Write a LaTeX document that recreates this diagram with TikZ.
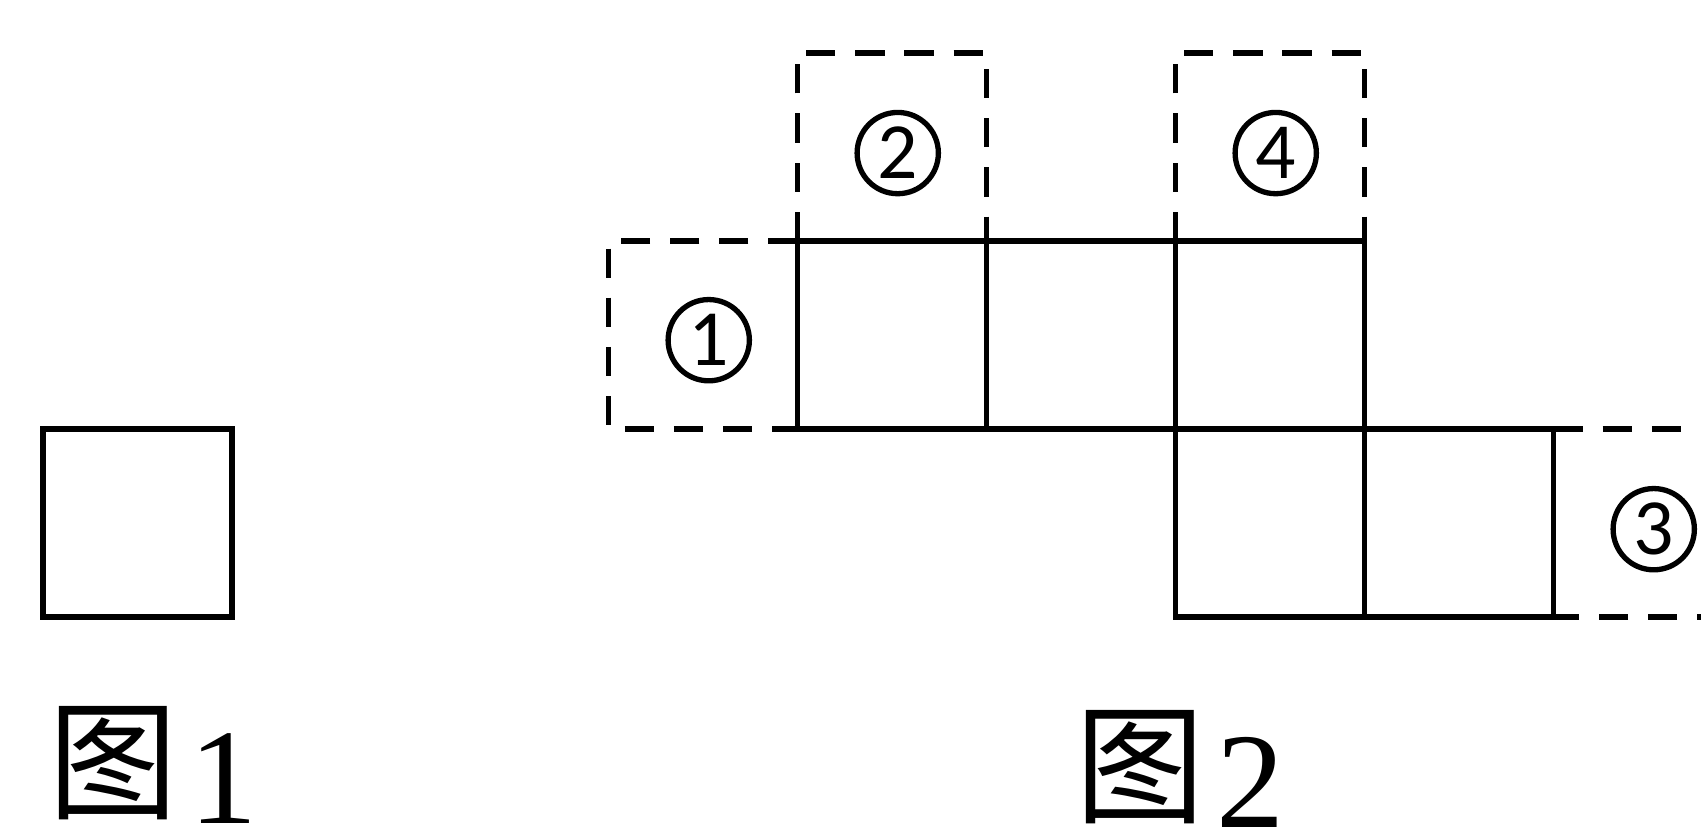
\documentclass[tikz,border=0pt]{standalone}
\usepackage{fontspec}
\setmainfont{Liberation Serif}
\newfontfamily\cjk{Noto Sans CJK SC}
\newfontfamily\numfont{Carlito}
\usepackage{tikz}
\tikzset{
  edge/.style={line width=0.8pt},
  fold/.style={line width=0.8pt, dash pattern=on 4.4pt off 3pt},
  num/.style={circle, draw, line width=0.8pt, minimum size=0.43cm, inner sep=0pt, font=\numfont\fontsize{12}{12}\selectfont},
  caption/.style={anchor=base, inner sep=0pt, font=\fontsize{20.5}{24}\selectfont}
}

\begin{document}
\begin{tikzpicture}
  \useasboundingbox (0,0) rectangle (9,-4.407);
  % define the coordinates
  \coordinate (A) at (4.22,-1.275);
  \coordinate (B) at (7.22,-2.27);
  \coordinate (C) at (6.22,-2.27);
  \coordinate (D) at (8.22,-3.265);
  % figure 1
  \draw[edge] (0.228,-2.27) rectangle (1.228,-3.265);
  \node[caption] (fig1) at (0.81,-4.355) {{\cjk\raisebox{0.1em}{\fontsize{19.5}{24}\selectfont 图}}\hspace{0.08em}1};

  % figure 2: the solid squares
  \draw[edge] (A) rectangle (B);
  \draw[edge] (5.22,-1.275) -- (5.22,-2.27);
  \draw[edge] (6.22,-1.275) -- (6.22,-2.27);
  \draw[edge] (C) rectangle (D);
  \draw[edge] (7.22,-2.27) -- (7.22,-3.265);
  % the dashed squares
  \draw[fold] (A) -- (3.22,-1.275) -- (3.22,-2.27) -- (4.22,-2.27);
  \draw[fold] (A) -- (4.22,-0.28) -- (5.22,-0.28) -- (5.22,-1.275);
  \draw[fold] (6.22,-1.275) -- (6.22,-0.28) -- (7.22,-0.28) -- (7.22,-1.275);
  \draw[fold] (8.22,-2.27) -- (9.22,-2.27) -- (9.22,-3.265) -- (D);
  % the numbers
  \node[num] (n1) at (3.75,-1.80) {1};
  \node[num] (n2) at (4.75,-0.81) {2};
  \node[num] (n3) at (8.75,-2.80) {3};
  \node[num] (n4) at (6.75,-0.81) {4};
  \node[caption] (fig2) at (6.243,-4.376) {{\cjk\raisebox{0.1em}{\fontsize{19.5}{24}\selectfont 图}}\hspace{0.08em}2};
\end{tikzpicture}
\end{document}
